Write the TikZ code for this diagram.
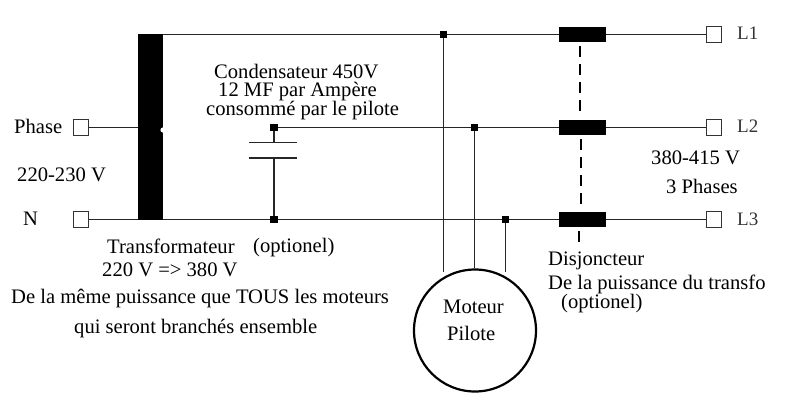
\documentclass[tikz,border=0pt]{standalone}
\usepackage{fontspec}
\setmainfont{Liberation Serif}
\begin{document}
\begin{tikzpicture}[x=1pt,y=-1pt,
  wire/.style={draw=black!85,line width=1.6pt},
  terminal/.style={draw=black!80,fill=white,line width=1.3pt,minimum size=15.5pt,inner sep=0pt,outer sep=0pt},
  junction/.style={fill=black,minimum size=7.5pt,inner sep=0pt,outer sep=0pt},
  breaker/.style={fill=black,minimum width=47pt,minimum height=15pt,inner sep=0pt,outer sep=0pt},
  gang/.style={draw=black,line width=1.4pt,dash pattern=on 11pt off 7pt},
  label/.style={inner sep=0pt,anchor=base west,font=\fontsize{20.6pt}{22pt}\selectfont},
  tag/.style={inner sep=0pt,anchor=base west,font=\fontsize{19pt}{20pt}\selectfont,text=black!80}]
\useasboundingbox (0,0) rectangle (786,416);
% transformer
\node[fill=black,minimum width=25pt,minimum height=186pt,inner sep=0pt,outer sep=0pt] (tr) at (150.5,127) {};
\fill[white] (163,130) circle (2.6pt);
% terminals
\node[terminal] (ph) at (81,127.5) {};
\node[terminal] (nn) at (81,219.5) {};
\node[terminal] (l1) at (714,34.5) {};
\node[terminal] (l2) at (714,127.5) {};
\node[terminal] (l3) at (714,219.5) {};
% breakers
\node[breaker] (b1) at (582.5,34.5) {};
\node[breaker] (b2) at (582.5,127.5) {};
\node[breaker] (b3) at (582.5,219.5) {};
% junctions
\node[junction] (j1) at (443.5,34.5) {};
\node[junction] (j2) at (474.5,127.5) {};
\node[junction] (j3) at (505.5,219.5) {};
\node[junction] (c1) at (274,127.5) {};
\node[junction] (c2) at (274,219.5) {};
% motor
\node[circle,draw=black,line width=2.2pt,minimum size=122pt,inner sep=0pt,outer sep=0pt] (m) at (475,330.5) {};
\coordinate (m1) at (443.5,272);
\coordinate (m2) at (474.5,268);
\coordinate (m3) at (505.5,272);
% capacitor
\coordinate (p1a) at (249,142.5); \coordinate (p1b) at (297,142.5); \coordinate (p1c) at (274,142.5);
\coordinate (p2a) at (249,158); \coordinate (p2b) at (297,158); \coordinate (p2c) at (274,158);
\draw[wire] (p1a) -- (p1b);
\draw[wire] (p2a) -- (p2b);
\draw[wire] (c1) -- (p1c);
\draw[wire] (p2c) -- (c2);
% wires
\draw[wire] (ph) -- (tr.west |- ph);
\draw[wire] (nn) -- (tr.west |- nn);
\draw[wire] (tr.east |- j1) -- (j1) -- (b1) -- (l1);
\draw[wire] (c1) -- (j2) -- (b2) -- (l2);
\draw[wire] (tr.east |- c2) -- (c2) -- (j3) -- (b3) -- (l3);
\draw[wire] (j1) -- (m1);
\draw[wire] (j2) -- (m2);
\draw[wire] (j3) -- (m3);
% ganged breaker link
\coordinate (g1) at (580,46); \coordinate (g2) at (580,118);
\coordinate (g3) at (581,139); \coordinate (g4) at (581,210);
\coordinate (g5) at (579,231); \coordinate (g6) at (579,247);
\draw[gang] (g1) -- (g2);
\draw[gang] (g3) -- (g4);
\draw[gang] (g5) -- (g6);
% labels
\node[label] (t1) at (14,133) {Phase};
\node[label] (t2) at (17,181) {220-230 V};
\node[label] (t3) at (23,225) {N};
\node[label] (t4) at (214,78) {Condensateur 450V};
\node[label] (t5) at (218,96) {12 MF par Ampère};
\node[label] (t6) at (206,115) {consommé par le pilote};
\node[label] (t7) at (107,253) {Transformateur};
\node[label] (t8) at (253,252) {(optionel)};
\node[label] (t9) at (102,276) {220 V => 380 V};
\node[label] (t10) at (11,303) {De la même puissance que TOUS les moteurs};
\node[label] (t11) at (74,333) {qui seront branchés ensemble};
\node[label] (t12) at (443,313) {Moteur};
\node[label] (t13) at (447,340) {Pilote};
\node[label] (t14) at (548,265) {Disjoncteur};
\node[label] (t15) at (548,289) {De la puissance du transfo};
\node[label] (t16) at (561,308) {(optionel)};
\node[label] (t17) at (651,164) {380-415 V};
\node[label] (t18) at (666,193) {3 Phases};
\node[tag] (t19) at (737,39) {L1};
\node[tag] (t20) at (737,132) {L2};
\node[tag] (t21) at (737,225) {L3};
\end{tikzpicture}
\end{document}
